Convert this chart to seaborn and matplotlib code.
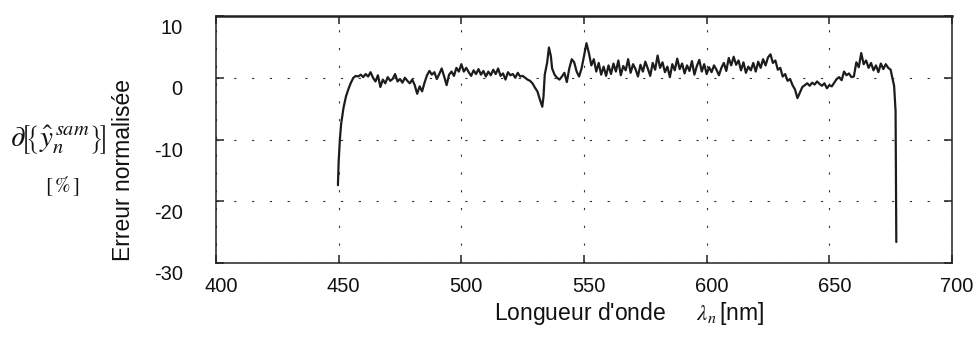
import matplotlib
matplotlib.use("Agg")
import matplotlib.pyplot as plt
import pandas as pd
import seaborn as sns
from matplotlib.transforms import ScaledTranslation

# Normalised error of the estimated spectrum, per wavelength (nm -> %)
wavelength = [
    449.7, 450.0, 450.5, 451, 452, 453, 454, 455, 456, 457, 458, 459, 460,
    461, 462, 463, 464, 465, 466, 467, 468, 469, 470, 471, 472, 473, 474,
    475, 476, 477, 478, 479, 480, 481, 482, 483, 484, 485, 486, 487, 488,
    489, 490, 491, 492, 493, 494, 495, 496, 497, 498, 499, 500, 501, 502,
    503, 504, 505, 506, 507, 508, 509, 510, 511, 512, 513, 514, 515, 516,
    517, 518, 519, 520, 521, 522, 523, 524, 525, 526, 527, 528, 529, 530,
    531, 532, 533, 533.5, 534, 535, 535.7, 536.5, 537, 538, 539, 540, 541,
    542, 543, 544, 545, 546, 547, 548, 549, 550, 551, 552, 553, 554, 555,
    556, 557, 558, 559, 560, 561, 562, 563, 564, 565, 566, 567, 568, 569,
    570, 571, 572, 573, 574, 575, 576, 577, 578, 579, 580, 581, 582, 583,
    584, 585, 586, 587, 588, 589, 590, 591, 592, 593, 594, 595, 596, 597,
    598, 599, 600, 601, 602, 603, 604, 605, 606, 607, 608, 609, 610, 611,
    612, 613, 614, 615, 616, 617, 618, 619, 620, 621, 622, 623, 624, 625,
    626, 627, 628, 629, 630, 631, 632, 633, 634, 635, 636, 637, 638, 639,
    640, 641, 642, 643, 644, 645, 646, 647, 648, 649, 650, 651, 652, 653,
    654, 655, 656, 657, 658, 659, 660, 661, 662, 663, 664, 665, 666, 667,
    668, 669, 670, 671, 672, 673, 674, 675, 675.5, 676.4, 677.0, 677.3,
]
error = [
    -17.4, -13.5, -10.0, -7.5, -4.8, -3.0, -1.8, -0.8, 0.0, 0.3, 0.2, 0.5, 0.1,
    0.6, 0.2, 0.9, 0.0, -0.6, 0.4, -1.5, -0.3, -0.9, 0.1, -0.5, -0.2, 0.6, -0.6,
    -0.2, -0.8, 0.0, -0.5, -0.9, -0.3, -1.2, -2.6, -1.4, -2.2, -0.8, 0.4, 1.1, 0.5,
    0.9, -0.2, 0.6, 1.5, 0.2, -1.2, 0.5, 1.0, 0.3, 1.6, 1.0, 2.2, 1.0, 1.6,
    0.9, 0.3, 1.2, 0.6, 1.4, 0.5, 1.1, 0.2, 1.0, 0.4, 1.3, 0.6, 1.5, 0.3,
    0.7, -0.3, 0.9, 0.4, 0.6, 0.0, 0.8, 0.2, 0.3, 0.0, -0.3, -0.5, -0.9, -1.6,
    -2.2, -3.5, -4.7, -3.0, 0.5, 2.5, 4.9, 3.5, 1.5, 0.5, 0.0, -0.3, 0.2,
    0.8, -0.7, 1.5, 3.0, 2.5, 1.0, 0.2, 1.5, 3.5, 5.6, 4.0, 2.0, 3.0, 1.0,
    2.4, 0.5, 1.8, 0.3, 2.0, 0.6, 2.3, 1.0, 2.8, 0.4, 1.9, 1.2, 3.0, 0.8,
    2.2, 1.4, 0.2, 2.1, 1.0, 2.6, 1.5, 0.3, 2.4, 1.3, 3.6, 1.6, 2.5, 0.9,
    1.8, 0.1, 2.2, 1.2, 3.1, 1.4, 2.3, 0.7, 2.0, 1.1, 2.7, 0.5, 1.9, 2.9,
    1.0, 2.2, 0.6, 1.7, 0.9, 2.0, 1.3, 0.4, 1.6, 2.4, 1.1, 3.2, 2.0, 3.4,
    2.1, 2.8, 1.2, 2.5, 0.8, 1.8, 1.2, 2.4, 1.0, 2.6, 1.6, 3.0, 2.0, 3.3,
    3.8, 2.4, 2.8, 1.3, 1.6, 0.2, 0.6, -0.5, -0.2, -1.2, -1.9, -3.3, -2.4, -1.5,
    -1.2, -0.9, -1.3, -0.8, -1.1, -0.6, -1.0, -1.3, -0.9, -1.7, -1.2, -1.4, -0.8, -0.2,
    0.1, -0.4, 1.0, 0.4, 0.7, 0.1, 0.2, 2.5, 1.7, 4.0, 2.2, 2.8, 1.6, 2.4,
    1.2, 2.0, 0.9, 2.3, 1.4, 2.2, 1.6, 1.3, 0.3, -1.3, -5.4, -26.6,
]

x_ticks = [400, 450, 500, 550, 600, 650, 700]
y_ticks = [-30, -20, -10, 0, 10]

sns.set_theme(style="ticks")
plt.rcParams["font.family"] = ["Liberation Sans", "DejaVu Sans"]
plt.rcParams["mathtext.fontset"] = "stix"
plt.rcParams["axes.unicode_minus"] = False

W, H = 977, 338
fig = plt.figure(figsize=(W / 100, H / 100), dpi=100)
ax = fig.add_axes([216 / W, 1 - 263 / H, 736 / W, 247 / H])

df = pd.DataFrame({"wavelength": wavelength, "error": error})
sns.lineplot(data=df, x="wavelength", y="error", ax=ax, color="#1c1c1c",
             linewidth=1.6, estimator=None, sort=False)

ax.set_xlim(400, 700)
ax.set_ylim(-30, 10)
ax.set_xticks(x_ticks)
ax.set_yticks(y_ticks)
ax.grid(True, color="#333333", linestyle=(0, (2, 14)), linewidth=0.8)

for side in ["top", "bottom", "left", "right"]:
    ax.spines[side].set_visible(True)
    ax.spines[side].set_color("#222222")
    ax.spines[side].set_linewidth(1.1)
ax.spines["top"].set_linewidth(1.8)

ax.tick_params(axis="both", direction="in", top=True, right=True,
               length=6, width=1.1, color="#222222", labelsize=14.5,
               labelcolor="#111111")
ax.tick_params(axis="y", pad=24)
ax.tick_params(axis="x", pad=10)

# nudge tick labels the way the printed axis sets them
for lab in ax.get_yticklabels():
    lab.set_transform(lab.get_transform() + ScaledTranslation(0, -0.10, fig.dpi_scale_trans))
for lab in ax.get_xticklabels():
    lab.set_transform(lab.get_transform() + ScaledTranslation(0.05, 0, fig.dpi_scale_trans))

ax.set_xlabel("Longueur d'onde     $\\lambda_n\\,$[nm]", fontsize=16.5, color="#111111")
ax.xaxis.set_label_coords(0.561, -0.15)
ax.set_ylabel("Erreur normalisée", fontsize=16.5, color="#111111")
ax.yaxis.set_label_coords(-0.110, 0.377)

# Quantity symbol on the left, with its unit below
fig.text(58 / W, 1 - 140 / H,
         r"$\partial\!\left[\!\left\{\hat{y}_n^{\,sam}\right\}\!\right]$",
         fontsize=21, ha="center", va="center", color="#111111")
fig.text(62 / W, 1 - 186 / H, r"$[\,\%\,]$", fontsize=15,
         ha="center", va="center", color="#111111")

fig.savefig("out.png", dpi=100)
